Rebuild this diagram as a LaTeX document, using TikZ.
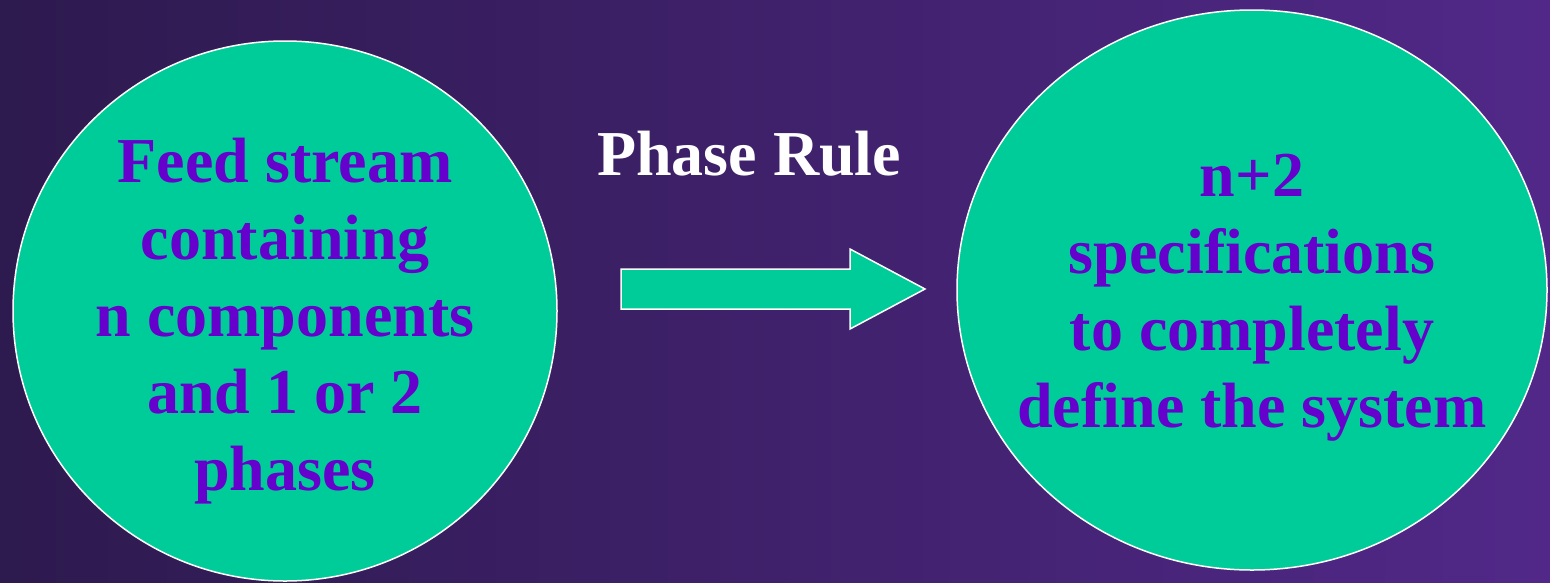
\documentclass[tikz,border=0pt]{standalone}
\usepackage{fontspec}
\setmainfont{Liberation Serif}
\usetikzlibrary{shapes.geometric,positioning}
\definecolor{bgdark}{HTML}{2D1A4E}
\definecolor{bglight}{HTML}{512888}
\definecolor{mint}{HTML}{00CC99}
\definecolor{deepviolet}{HTML}{6600CC}

\begin{document}
\begin{tikzpicture}[x=1pt,y=-1pt,
  blob/.style={ellipse,draw=white,line width=1.5pt,fill=mint,inner sep=0pt},
  blobtext/.style={align=center,text=deepviolet,inner sep=0pt,
    font=\fontsize{64}{77}\selectfont\bfseries}]
  \useasboundingbox (0,0) rectangle (1550,582);
  \clip (0,0) rectangle (1550,582);
  \shade[left color=bgdark,right color=bglight] (0,0) rectangle (1550,582);

  % the two circles
  \node[blob,minimum width=544pt,minimum height=540pt] (feed) at (285,311) {};
  \node[blob,minimum width=590pt,minimum height=560pt] (spec) at (1252,290) {};
  \node[blobtext] (feedtext) at (285,321) {Feed stream\\containing\\n components\\and 1 or 2\\phases};
  \node[blobtext] (spectext) at (1252,298) {n+2\\specifications\\to completely\\define the system};

  % block arrow in between
  \filldraw[mint,draw=white,line width=1.5pt,line join=miter]
    (621,269) -- (850,269) -- (850,249) -- (925,289) -- (850,329) -- (850,309) -- (621,309) -- cycle;
  \node[anchor=base,text=white,inner sep=0pt,font=\fontsize{64}{77}\selectfont\bfseries]
    (rule) at (749,175) {Phase Rule};
\end{tikzpicture}
\end{document}
